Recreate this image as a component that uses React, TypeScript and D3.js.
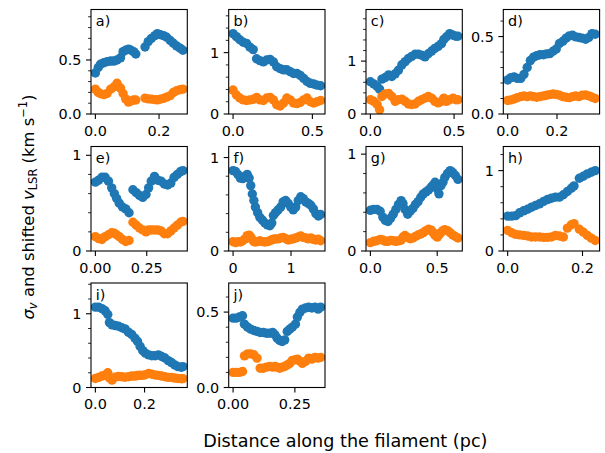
import React from 'react';
import * as d3 from 'd3';

// ---------- data ----------
const panelLabels = ['a)', 'b)', 'c)', 'd)', 'e)', 'f)', 'g)', 'h)', 'i)', 'j)'];

const xA = [0, 0.009, 0.016, 0.027, 0.037, 0.048, 0.058, 0.068, 0.079, 0.087, 0.095, 0.104, 0.112, 0.120, 0.127, 0.156, 0.166, 0.176, 0.187, 0.195, 0.204, 0.214, 0.224, 0.235, 0.245, 0.255, 0.266, 0.275];
const blueA = [0.38, 0.43, 0.46, 0.475, 0.485, 0.49, 0.49, 0.50, 0.52, 0.577, 0.59, 0.60, 0.59, 0.577, 0.555, 0.62, 0.67, 0.70, 0.725, 0.744, 0.735, 0.725, 0.71, 0.68, 0.655, 0.63, 0.61, 0.59];
const orangeA = [0.23, 0.20, 0.187, 0.18, 0.19, 0.23, 0.25, 0.285, 0.24, 0.19, 0.14, 0.11, 0.12, 0.13, 0.13, 0.147, 0.14, 0.138, 0.133, 0.131, 0.138, 0.145, 0.156, 0.17, 0.2, 0.215, 0.225, 0.23];

const xB = [0, 0.021, 0.042, 0.064, 0.085, 0.106, 0.127, 0.148, 0.169, 0.191, 0.212, 0.233, 0.254, 0.275, 0.297, 0.318, 0.339, 0.36, 0.381, 0.403, 0.424, 0.445, 0.466, 0.487, 0.508, 0.53, 0.552];
const blueB = [1.31, 1.26, 1.21, 1.17, 1.15, 1.09, 1.05, 0.90, 0.87, 0.85, 0.88, 0.89, 0.85, 0.77, 0.74, 0.72, 0.72, 0.69, 0.66, 0.66, 0.63, 0.58, 0.53, 0.50, 0.49, 0.47, 0.46];
const orangeB = [0.39, 0.31, 0.26, 0.23, 0.22, 0.23, 0.24, 0.27, 0.23, 0.22, 0.26, 0.27, 0.23, 0.15, 0.13, 0.18, 0.26, 0.23, 0.18, 0.17, 0.19, 0.23, 0.26, 0.20, 0.18, 0.20, 0.22];

const xC = [0, 0.020, 0.040, 0.055, 0.069, 0.089, 0.109, 0.128, 0.148, 0.168, 0.188, 0.208, 0.227, 0.247, 0.267, 0.287, 0.306, 0.326, 0.346, 0.366, 0.385, 0.405, 0.425, 0.439, 0.455, 0.474, 0.494, 0.510, 0.523];
const blueC = [0.61, 0.57, 0.52, 0.47, 0.66, 0.69, 0.74, 0.71, 0.76, 0.83, 0.93, 0.99, 1.05, 1.09, 1.13, 1.13, 1.11, 1.08, 1.14, 1.19, 1.24, 1.28, 1.33, 1.41, 1.46, 1.52, 1.49, 1.47, 1.47];
const orangeC = [0.27, 0.24, 0.18, 0.08, 0.33, 0.38, 0.39, 0.33, 0.24, 0.27, 0.28, 0.24, 0.19, 0.18, 0.19, 0.24, 0.27, 0.30, 0.33, 0.30, 0.24, 0.21, 0.24, 0.30, 0.24, 0.27, 0.30, 0.27, 0.27];

const xD = [0, 0.013, 0.026, 0.039, 0.053, 0.066, 0.079, 0.092, 0.105, 0.118, 0.131, 0.145, 0.158, 0.171, 0.184, 0.197, 0.210, 0.224, 0.237, 0.250, 0.263, 0.276, 0.289, 0.302, 0.316, 0.329, 0.342, 0.355];
const blueD = [0.22, 0.235, 0.24, 0.23, 0.23, 0.256, 0.30, 0.345, 0.367, 0.377, 0.383, 0.383, 0.388, 0.39, 0.405, 0.42, 0.455, 0.47, 0.49, 0.504, 0.508, 0.498, 0.494, 0.49, 0.483, 0.494, 0.519, 0.515];
const orangeD = [0.087, 0.091, 0.097, 0.106, 0.112, 0.117, 0.112, 0.117, 0.112, 0.108, 0.112, 0.117, 0.121, 0.125, 0.129, 0.127, 0.121, 0.112, 0.108, 0.106, 0.112, 0.117, 0.112, 0.121, 0.123, 0.117, 0.108, 0.10];

const xE = [0, 0.0159, 0.0318, 0.0477, 0.0636, 0.0795, 0.0922, 0.1033, 0.1161, 0.132, 0.1479, 0.1638, 0.1828, 0.1987, 0.2146, 0.2305, 0.2464, 0.2591, 0.2719, 0.2878, 0.3037, 0.3196, 0.3355, 0.3514, 0.3672, 0.3831, 0.399, 0.4149, 0.4261];
const blueE = [0.72, 0.74, 0.77, 0.77, 0.73, 0.66, 0.60, 0.55, 0.50, 0.46, 0.44, 0.40, 0.64, 0.61, 0.58, 0.56, 0.59, 0.66, 0.73, 0.78, 0.74, 0.73, 0.70, 0.69, 0.71, 0.77, 0.80, 0.83, 0.84];
const orangeE = [0.15, 0.13, 0.12, 0.15, 0.17, 0.19, 0.185, 0.17, 0.15, 0.12, 0.10, 0.11, 0.30, 0.27, 0.24, 0.22, 0.20, 0.22, 0.22, 0.22, 0.22, 0.21, 0.18, 0.18, 0.21, 0.24, 0.27, 0.30, 0.31];

const xF = [0, 0.043, 0.082, 0.125, 0.168, 0.207, 0.244, 0.277, 0.305, 0.332, 0.359, 0.385, 0.424, 0.462, 0.506, 0.549, 0.592, 0.635, 0.668, 0.696, 0.733, 0.777, 0.821, 0.864, 0.907, 0.951, 0.995, 1.038, 1.081, 1.125, 1.168, 1.212, 1.255, 1.299, 1.342, 1.386, 1.429, 1.472, 1.511];
const blueF = [0.86, 0.85, 0.82, 0.78, 0.775, 0.80, 0.82, 0.78, 0.70, 0.61, 0.54, 0.47, 0.41, 0.36, 0.33, 0.30, 0.28, 0.27, 0.30, 0.38, 0.41, 0.44, 0.47, 0.525, 0.54, 0.51, 0.47, 0.44, 0.47, 0.54, 0.58, 0.56, 0.525, 0.51, 0.49, 0.45, 0.40, 0.375, 0.39];
const orangeF = [0.10, 0.09, 0.10, 0.096, 0.11, 0.13, 0.165, 0.17, 0.15, 0.12, 0.10, 0.096, 0.10, 0.11, 0.10, 0.096, 0.10, 0.11, 0.12, 0.125, 0.13, 0.13, 0.14, 0.146, 0.132, 0.118, 0.125, 0.13, 0.14, 0.15, 0.16, 0.146, 0.14, 0.13, 0.14, 0.125, 0.118, 0.125, 0.11];

const xG = [0, 0.024, 0.049, 0.073, 0.093, 0.112, 0.132, 0.152, 0.171, 0.191, 0.210, 0.230, 0.244, 0.259, 0.279, 0.298, 0.318, 0.337, 0.357, 0.377, 0.396, 0.416, 0.435, 0.455, 0.469, 0.484, 0.501, 0.513, 0.528, 0.543, 0.557, 0.577, 0.597, 0.616, 0.636, 0.655];
const blueG = [0.42, 0.43, 0.43, 0.41, 0.35, 0.315, 0.305, 0.34, 0.38, 0.43, 0.48, 0.52, 0.49, 0.43, 0.38, 0.41, 0.44, 0.48, 0.51, 0.555, 0.59, 0.61, 0.63, 0.66, 0.68, 0.71, 0.64, 0.59, 0.675, 0.71, 0.76, 0.80, 0.83, 0.81, 0.78, 0.74];
const orangeG = [0.086, 0.10, 0.106, 0.12, 0.113, 0.10, 0.10, 0.11, 0.106, 0.10, 0.105, 0.113, 0.144, 0.16, 0.14, 0.127, 0.135, 0.15, 0.165, 0.175, 0.19, 0.21, 0.225, 0.215, 0.19, 0.16, 0.144, 0.165, 0.19, 0.21, 0.22, 0.21, 0.188, 0.165, 0.15, 0.134];

const xH = [0, 0.0106, 0.0213, 0.0319, 0.0426, 0.0532, 0.0638, 0.0745, 0.0851, 0.0957, 0.1064, 0.117, 0.1277, 0.1383, 0.1489, 0.1596, 0.1702, 0.1773, 0.1915, 0.2021, 0.2128, 0.2234, 0.234];
const blueH = [0.434, 0.434, 0.44, 0.475, 0.50, 0.52, 0.545, 0.566, 0.587, 0.616, 0.64, 0.657, 0.67, 0.67, 0.70, 0.74, 0.78, 0.81, 0.905, 0.93, 0.96, 0.98, 1.0];
const orangeH = [0.256, 0.227, 0.207, 0.20, 0.194, 0.186, 0.174, 0.174, 0.174, 0.17, 0.17, 0.174, 0.194, 0.186, 0.174, 0.285, 0.326, 0.34, 0.27, 0.235, 0.194, 0.16, 0.13];

const xI = [0, 0.0133, 0.0266, 0.0398, 0.0505, 0.0571, 0.0677, 0.081, 0.0943, 0.1076, 0.1208, 0.1341, 0.1474, 0.1607, 0.1713, 0.1819, 0.1926, 0.2032, 0.2165, 0.2297, 0.243, 0.2563, 0.2696, 0.2829, 0.2961, 0.3094, 0.3227, 0.336, 0.3493, 0.356];
const blueI = [1.09, 1.09, 1.07, 1.04, 0.99, 0.88, 0.85, 0.84, 0.83, 0.81, 0.795, 0.75, 0.72, 0.67, 0.625, 0.557, 0.50, 0.466, 0.443, 0.43, 0.43, 0.443, 0.42, 0.40, 0.365, 0.338, 0.306, 0.283, 0.274, 0.283];
const orangeI = [0.123, 0.137, 0.155, 0.169, 0.20, 0.13, 0.10, 0.14, 0.15, 0.146, 0.14, 0.146, 0.155, 0.155, 0.162, 0.166, 0.164, 0.175, 0.19, 0.18, 0.17, 0.164, 0.155, 0.146, 0.137, 0.137, 0.128, 0.123, 0.119, 0.12];

const xJ = [0, 0.0127, 0.0255, 0.0382, 0.0459, 0.0586, 0.0713, 0.0841, 0.0968, 0.1096, 0.1223, 0.135, 0.1478, 0.1605, 0.1694, 0.1783, 0.1885, 0.1987, 0.2089, 0.2191, 0.2293, 0.2395, 0.2522, 0.2599, 0.2701, 0.2803, 0.293, 0.3057, 0.3185, 0.3312, 0.3439, 0.3541];
const blueJ = [0.46, 0.46, 0.467, 0.476, 0.42, 0.40, 0.387, 0.378, 0.372, 0.365, 0.365, 0.36, 0.36, 0.365, 0.35, 0.327, 0.312, 0.305, 0.316, 0.372, 0.387, 0.40, 0.42, 0.467, 0.498, 0.52, 0.527, 0.533, 0.527, 0.533, 0.52, 0.533];
const orangeJ = [0.10, 0.10, 0.10, 0.106, 0.21, 0.223, 0.223, 0.217, 0.195, 0.128, 0.128, 0.135, 0.139, 0.135, 0.139, 0.135, 0.128, 0.135, 0.139, 0.15, 0.16, 0.18, 0.184, 0.188, 0.175, 0.16, 0.173, 0.195, 0.188, 0.2, 0.195, 0.2];

const xTickValues = [[0, 0.2], [0, 0.5], [0, 0.5], [0, 0.2], [0, 0.25], [0, 1], [0, 0.5], [0, 0.2], [0, 0.2], [0, 0.25]];
const xTickLabels = [['0.0', '0.2'], ['0.0', '0.5'], ['0.0', '0.5'], ['0.0', '0.2'], ['0.00', '0.25'], ['0', '1'], ['0.0', '0.5'], ['0.0', '0.2'], ['0.0', '0.2'], ['0.00', '0.25']];
const yTickValues = [[0, 0.5], [0, 1], [0, 1], [0, 0.5], [0, 1], [0, 1], [0, 1], [0, 1], [0, 1], [0, 0.5]];
const yTickLabels = [['0.0', '0.5'], ['0', '1'], ['0', '1'], ['0.0', '0.5'], ['0', '1'], ['0', '1'], ['0', '1'], ['0', '1'], ['0', '1'], ['0.0', '0.5']];

const xLabelText = 'Distance along the filament (pc)';

// ---------- layout ----------
const W = 605, H = 453;
const colLeft = [91, 228.7, 366, 503.3];
const rowTop = [9.5, 146.5, 283];
const axW = 96.3, axH = 104.5;
const BLUE = '#1f77b4', ORANGE = '#ff7f0e';
const FONT = 'DejaVu Sans, sans-serif';
const TICK_FS = 14.4;
const LABEL_FS = 17.6;
const YLABEL_FS = 16.4;
const R = 4.7;

const xsAll = [xA, xB, xC, xD, xE, xF, xG, xH, xI, xJ];
const bluesAll = [blueA, blueB, blueC, blueD, blueE, blueF, blueG, blueH, blueI, blueJ];
const orangesAll = [orangeA, orangeB, orangeC, orangeD, orangeE, orangeF, orangeG, orangeH, orangeI, orangeJ];

function Panel({ idx }: { idx: number }) {
  const xs = xsAll[idx], bl = bluesAll[idx], or = orangesAll[idx];
  const left = colLeft[idx % 4];
  const top = rowTop[Math.floor(idx / 4)];
  const [xmin, xmax] = d3.extent(xs) as [number, number];
  const span = xmax - xmin;
  const x = d3.scaleLinear().domain([xmin - 0.05 * span, xmax + 0.05 * span]).range([left, left + axW]);
  const ymax = 1.3 * Math.max(d3.max(bl)!, d3.max(or)!);
  const y = d3.scaleLinear().domain([0, ymax]).range([top + axH, top]);
  const majorStep = yTickValues[idx][1];
  const minorStep = majorStep === 0.5 ? 0.1 : 0.2;
  const minors = d3.range(minorStep, ymax, minorStep).filter((v) => Math.abs(v / majorStep - Math.round(v / majorStep)) > 1e-6);
  const clipId = `clip${idx}`;
  const bottom = top + axH;
  return (
    <g>
      <defs>
        <clipPath id={clipId}>
          <rect x={left} y={top} width={axW} height={axH} />
        </clipPath>
      </defs>
      <g clipPath={`url(#${clipId})`}>
        {xs.map((xv, i) => (
          <circle key={'b' + i} cx={x(xv)} cy={y(bl[i])} r={R} fill={BLUE} />
        ))}
        {xs.map((xv, i) => (
          <circle key={'o' + i} cx={x(xv)} cy={y(or[i])} r={R} fill={ORANGE} />
        ))}
      </g>
      <rect x={left} y={top} width={axW} height={axH} fill="none" stroke="#000" strokeWidth={1.1} />
      {yTickValues[idx].map((v, i) => (
        <g key={'yt' + i}>
          <line x1={left} x2={left - 5} y1={y(v)} y2={y(v)} stroke="#000" strokeWidth={1.1} />
          <text x={left - 9.5} y={y(v)} dy="0.36em" textAnchor="end" fontSize={TICK_FS} fontFamily={FONT} fill="#000">
            {yTickLabels[idx][i]}
          </text>
        </g>
      ))}
      {minors.map((v, i) => (
        <line key={'ym' + i} x1={left} x2={left - 2.9} y1={y(v)} y2={y(v)} stroke="#000" strokeWidth={0.85} />
      ))}
      {xTickValues[idx].map((v, i) => (
        <g key={'xt' + i}>
          <line x1={x(v)} x2={x(v)} y1={bottom} y2={bottom + 5} stroke="#000" strokeWidth={1.1} />
          <text x={x(v)} y={bottom + 21.5} textAnchor="middle" fontSize={TICK_FS} fontFamily={FONT} fill="#000">
            {xTickLabels[idx][i]}
          </text>
        </g>
      ))}
      <text x={left + 0.05 * axW} y={top + 16.5} fontSize={TICK_FS} fontFamily={FONT} fill="#000">
        {panelLabels[idx]}
      </text>
    </g>
  );
}

export default function App() {
  const axesCenterX = (colLeft[0] + colLeft[3] + axW) / 2;
  const yLabelCenter = 207;
  const sub = YLABEL_FS * 0.7;
  return (
    <svg width={W} height={H} viewBox={`0 0 ${W} ${H}`} style={{ display: 'block', position: 'absolute', left: 0, top: 0, background: '#fff' }}>
      <rect width={W} height={H} fill="#fff" />
      {panelLabels.map((_, i) => (
        <Panel key={i} idx={i} />
      ))}
      <text x={axesCenterX} y={446.5} textAnchor="middle" fontSize={LABEL_FS} fontFamily={FONT} fill="#000">
        {xLabelText}
      </text>
      <text transform={`translate(33.5, ${yLabelCenter}) rotate(-90)`} textAnchor="middle" fontSize={YLABEL_FS} fontFamily={FONT} fill="#000">
        <tspan fontStyle="italic">σ</tspan>
        <tspan fontStyle="italic" fontSize={sub} dy={3}>v</tspan>
        <tspan dy={-3}> and shifted </tspan>
        <tspan fontStyle="italic">v</tspan>
        <tspan fontSize={sub} dy={3}>LSR</tspan>
        <tspan dy={-3}> (km s</tspan>
        <tspan fontSize={sub} dy={-7}>−1</tspan>
        <tspan dy={7}>)</tspan>
      </text>
    </svg>
  );
}
